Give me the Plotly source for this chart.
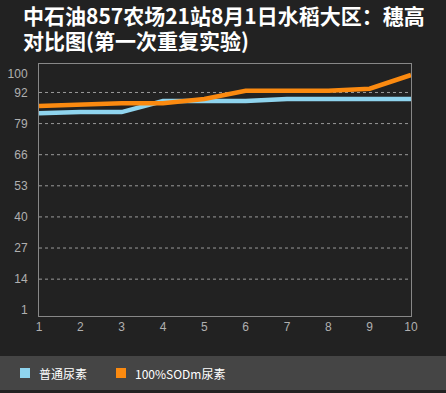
import plotly.graph_objects as go

x_labels = [1, 2, 3, 4, 5, 6, 7, 8, 9, 10]
series_names = ["普通尿素", "100%SODm尿素"]
normal_urea = [83.3, 83.8, 83.8, 88.4, 88.4, 88.4, 89.3, 89.3, 89.3, 89.3]
sodm_urea = [86.4, 87.0, 87.5, 87.5, 89.3, 92.7, 92.7, 92.7, 93.6, 99.3]
y_ticks = [1, 14, 27, 40, 53, 66, 79, 92, 100]
colors = ["#8fd4ee", "#fb8a10"]
title_lines = ["中石油857农场21站8月1日水稻大区：穗高", "对比图(第一次重复实验)"]

W, H = 446, 393
L, R, T, B = 39, 35, 64, 77
pw = W - L - R
ph = H - T - B


def px(xp):
    return (xp - L) / pw


def py(yp):
    return (H - B - yp) / ph


fig = go.Figure()
for name, vals, c in zip(series_names, [normal_urea, sodm_urea], colors):
    fig.add_trace(go.Scatter(x=x_labels, y=vals, mode="lines", name=name,
                             line=dict(color=c, width=4.5), showlegend=False,
                             hoverinfo="skip"))

shapes = []
for v in y_ticks[1:-1]:
    shapes.append(dict(type="line", xref="paper", x0=0, x1=1, yref="y", y0=v, y1=v,
                       line=dict(color="#9a9a9a", width=1, dash="dot"), layer="below"))
shapes.append(dict(type="rect", xref="paper", x0=px(-5), x1=px(W + 5), yref="paper",
                   y0=py(390), y1=py(356), fillcolor="#454545", line=dict(width=0),
                   layer="below"))

annotations = []
for i, line in enumerate(title_lines):
    annotations.append(dict(text="<b>" + line + "</b>", xref="paper", yref="paper",
                            x=px(21), y=py(15 + 25 * i), xanchor="left", yanchor="middle",
                            showarrow=False,
                            font=dict(family="Noto Sans CJK SC", size=21, color="#ffffff")))

leg_sq_x = [20, 116]
for name, c, sx in zip(series_names, colors, leg_sq_x):
    shapes.append(dict(type="rect", xref="paper", yref="paper",
                       x0=px(sx), x1=px(sx + 10), y0=py(378), y1=py(368),
                       fillcolor=c, line=dict(width=0)))
    annotations.append(dict(text=name, xref="paper", yref="paper",
                            x=px(sx + 17), y=py(373), xanchor="left", yanchor="middle",
                            showarrow=False,
                            font=dict(family="Noto Sans CJK SC", size=12, color="#ffffff")))

fig.update_layout(
    width=W, height=H,
    margin=dict(l=L, r=R, t=T, b=B, pad=0, autoexpand=False),
    paper_bgcolor="#222222", plot_bgcolor="#222222",
    showlegend=False,
    hovermode=False,
    xaxis=dict(range=[1, 10], tickvals=x_labels, showgrid=False, zeroline=False,
               showline=True, mirror=True, linecolor="#888888", linewidth=1,
               ticks="", tickfont=dict(family="Liberation Sans", size=12, color="#b0b0b0")),
    yaxis=dict(range=[-1.4, 103.9], tickvals=y_ticks, showgrid=False, zeroline=False,
               showline=True, mirror=True, linecolor="#888888", linewidth=1,
               ticks="outside", ticklen=8, tickcolor="rgba(0,0,0,0)",
               tickfont=dict(family="Liberation Sans", size=12, color="#b0b0b0")),
    shapes=shapes,
    annotations=annotations,
)

fig.write_html("out.html", config={"displayModeBar": False},
               post_script="document.body.style.margin='0';document.body.style.background='#222222';")
